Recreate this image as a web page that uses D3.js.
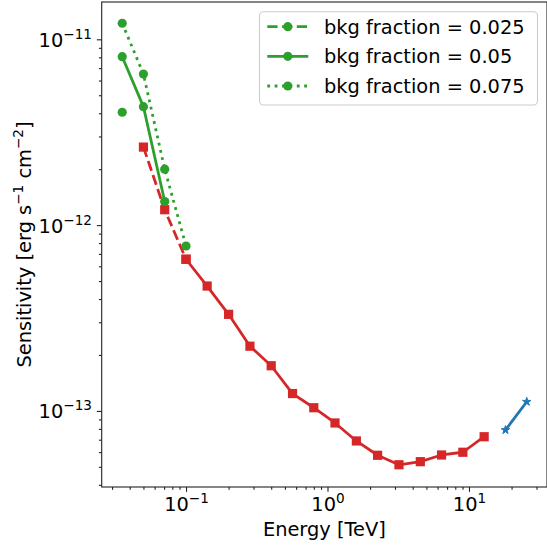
<!DOCTYPE html>
<html>
<head>
<meta charset="UTF-8" />
<title>Sensitivity</title>
<script src="https://d3js.org/d3.v7.min.js"></script>
<style>
body {
	margin: 0;
	background: #fff;
}

text {
	font-family: "DejaVu Sans", sans-serif;
	fill: #000;
}
</style>
</head>
<body>
<div id="chart"></div>
<script>
// energies [TeV] and sensitivities [erg s-1 cm-2]
var redDashEnergy = [0.05, 0.0707, 0.1];
var redDashSens = [2.63e-12, 1.21e-12, 6.55e-13];

var redEnergy = [0.1, 0.141, 0.2, 0.283, 0.4, 0.566, 0.8, 1.13, 1.6, 2.26, 3.2, 4.53, 6.4, 9.05, 12.8];
var redSens = [6.55e-13, 4.70e-13, 3.31e-13, 2.23e-13, 1.75e-13, 1.24e-13, 1.04e-13, 8.61e-14,
               6.89e-14, 5.77e-14, 5.13e-14, 5.33e-14, 5.79e-14, 5.99e-14, 7.26e-14];

var blueEnergy = [18.1, 25.6];
var blueSens = [7.89e-14, 1.12e-13];

var greenEnergy = [0.0354, 0.05, 0.0707, 0.1];
var bkg025 = [4.05e-12];
var bkg05 = [8.06e-12, 4.34e-12, 1.34e-12];
var bkg075 = [1.22e-11, 6.50e-12, 2.00e-12, 7.72e-13];
var bkgLabels = ['bkg fraction = 0.025', 'bkg fraction = 0.05', 'bkg fraction = 0.075'];

var xMajor = [0.1, 1, 10];
var xMajorExp = ['\u22121', '0', '1'];
var yMajor = [1e-13, 1e-12, 1e-11];
var yMajorExp = ['\u221213', '\u221212', '\u221211'];

var width = 547;
var height = 546;
var plotLeft = 101.7, plotRight = 547, plotTop = 2, plotBottom = 487;

var green = '#2ca02c', red = '#d62728', blue = '#1f77b4';
var lw = 2.78;

var svg = d3.select('#chart')
    .append('svg')
    .attr('width', width)
    .attr('height', height);

var x = d3.scaleLog().domain([0.02535, 35.6]).range([plotLeft, plotRight]);
var y = d3.scaleLog().domain([3.894e-14, 1.588e-11]).range([plotBottom, plotTop]);

function minors(lo, hi) {
    var out = [];
    for (var e = Math.floor(Math.log10(lo)); e <= Math.ceil(Math.log10(hi)); e++) {
        for (var m = 2; m <= 9; m++) {
            var v = m * Math.pow(10, e);
            if (v >= lo && v <= hi) out.push(v);
        }
    }
    return out;
}

// axes
var xMinorAxis = d3.axisBottom(x).tickValues(minors(x.domain()[0], x.domain()[1])).tickSize(2.78).tickSizeOuter(0).tickFormat('');
var xAxis = d3.axisBottom(x).tickValues(xMajor).tickSize(4.86).tickSizeOuter(0).tickFormat('');
var yMinorAxis = d3.axisLeft(y).tickValues(minors(y.domain()[0], y.domain()[1])).tickSize(2.78).tickSizeOuter(0).tickFormat('');
var yAxis = d3.axisLeft(y).tickValues(yMajor).tickSize(4.86).tickSizeOuter(0).tickFormat('');

svg.append('g').attr('transform', 'translate(0,' + plotBottom + ')').call(xMinorAxis);
var gx = svg.append('g').attr('transform', 'translate(0,' + plotBottom + ')').call(xAxis);
svg.append('g').attr('transform', 'translate(' + plotLeft + ',0)').call(yMinorAxis);
var gy = svg.append('g').attr('transform', 'translate(' + plotLeft + ',0)').call(yAxis);

svg.selectAll('.domain').remove();
svg.selectAll('.tick line').attr('stroke', '#222').attr('stroke-width', 1.1);

gx.selectAll('.tick text').each(function(d, i) {
    var t = d3.select(this)
        .attr('y', 24).attr('dy', null)
        .attr('font-size', '19.4px')
        .attr('text-anchor', 'middle')
        .attr('font-family', 'DejaVu Sans');
    t.text('');
    t.append('tspan').text('10');
    t.append('tspan').attr('dy', -8).attr('font-size', '13.6px').text(xMajorExp[i]);
});

gy.selectAll('.tick text').each(function(d, i) {
    var t = d3.select(this)
        .attr('x', -9.7).attr('dy', 7)
        .attr('font-size', '19.4px')
        .attr('text-anchor', 'end')
        .attr('font-family', 'DejaVu Sans');
    t.text('');
    t.append('tspan').text('10');
    t.append('tspan').attr('dy', -8).attr('font-size', '13.6px').text(yMajorExp[i]);
});

// spines (right one sits on the page edge)
svg.append('rect')
    .attr('x', plotLeft).attr('y', plotTop)
    .attr('width', plotRight - plotLeft).attr('height', plotBottom - plotTop)
    .attr('fill', 'none')
    .attr('stroke', '#222')
    .attr('stroke-width', 1.1);

// axis labels
svg.append('text')
    .attr('x', (plotLeft + plotRight) / 2)
    .attr('y', 536)
    .attr('text-anchor', 'middle')
    .attr('font-size', '19.4px')
    .text('Energy [TeV]');

var yl = svg.append('text')
    .attr('transform', 'translate(31,' + ((plotTop + plotBottom) / 2) + ') rotate(-90)')
    .attr('text-anchor', 'middle')
    .attr('font-size', '19.4px');
yl.append('tspan').text('Sensitivity [erg s');
yl.append('tspan').attr('dy', -8).attr('font-size', '13.6px').text('\u22121');
yl.append('tspan').attr('dy', 8).text(' cm');
yl.append('tspan').attr('dy', -8).attr('font-size', '13.6px').text('\u22122');
yl.append('tspan').attr('dy', 8).text(']');

// series
var line = d3.line()
    .x(function(d) { return x(d[0]); })
    .y(function(d) { return y(d[1]); });

function zip(a, b) {
    return b.map(function(v, i) { return [a[i], v]; });
}

function drawLine(pts, color, dash) {
    svg.append('path')
        .datum(pts)
        .attr('d', line)
        .attr('fill', 'none')
        .attr('stroke', color)
        .attr('stroke-width', lw)
        .attr('stroke-linejoin', 'round')
        .attr('stroke-dasharray', dash);
}

function squares(pts, color) {
    svg.selectAll(null)
        .data(pts)
        .enter()
        .append('rect')
        .attr('x', function(d) { return x(d[0]) - 4.6; })
        .attr('y', function(d) { return y(d[1]) - 4.6; })
        .attr('width', 9.2)
        .attr('height', 9.2)
        .attr('fill', color);
}

function circles(pts, color, g) {
    (g || svg).selectAll(null)
        .data(pts)
        .enter()
        .append('circle')
        .attr('cx', function(d) { return d[0]; })
        .attr('cy', function(d) { return d[1]; })
        .attr('r', 4.6)
        .attr('fill', color);
}

function starPath(cx, cy, R) {
    var r = R * 0.382, p = [];
    for (var k = 0; k < 10; k++) {
        var a = -Math.PI / 2 + k * Math.PI / 5;
        var rr = k % 2 ? r : R;
        p.push([cx + rr * Math.cos(a), cy + rr * Math.sin(a)]);
    }
    return 'M' + p.join('L') + 'Z';
}

var redDash = zip(redDashEnergy, redDashSens);
var redSolid = zip(redEnergy, redSens);
drawLine(redDash, red, '10.3,4.45');
drawLine(redSolid, red, null);
squares(redDash, red);
squares(redSolid, red);

var bluePts = zip(blueEnergy, blueSens);
drawLine(bluePts, blue, null);
svg.selectAll(null)
    .data(bluePts)
    .enter()
    .append('path')
    .attr('d', function(d) { return starPath(x(d[0]), y(d[1]), 4.4); })
    .attr('fill', blue)
    .attr('stroke', blue)
    .attr('stroke-width', 1)
    .attr('stroke-linejoin', 'round');

var greenSeries = [bkg025, bkg05, bkg075];
var greenDash = ['10.3,4.45', null, '2.78,4.6'];
greenSeries.forEach(function(s, j) {
    var pts = zip(greenEnergy, s);
    drawLine(pts, green, greenDash[j]);
    circles(pts.map(function(d) { return [x(d[0]), y(d[1])]; }), green);
});

// legend
var legend = svg.append('g');
legend.append('rect')
    .attr('x', 259.5).attr('y', 11.7)
    .attr('width', 278).attr('height', 93.3)
    .attr('rx', 4).attr('ry', 4)
    .attr('fill', '#fff').attr('fill-opacity', 0.8)
    .attr('stroke', '#cccccc').attr('stroke-width', 1.1);

var rowY = d3.scaleLinear().domain([0, 2]).range([26.7, 86]);
bkgLabels.forEach(function(lab, j) {
    var ry = rowY(j);
    legend.append('path')
        .attr('d', 'M267.3,' + ry + 'L308.3,' + ry)
        .attr('stroke', green)
        .attr('stroke-width', lw)
        .attr('stroke-dasharray', greenDash[j]);
    circles([[287.8, ry]], green, legend);
    legend.append('text')
        .attr('x', 324)
        .attr('y', ry + 7)
        .attr('font-size', '19.4px')
        .text(lab);
});
</script>
</body>
</html>
